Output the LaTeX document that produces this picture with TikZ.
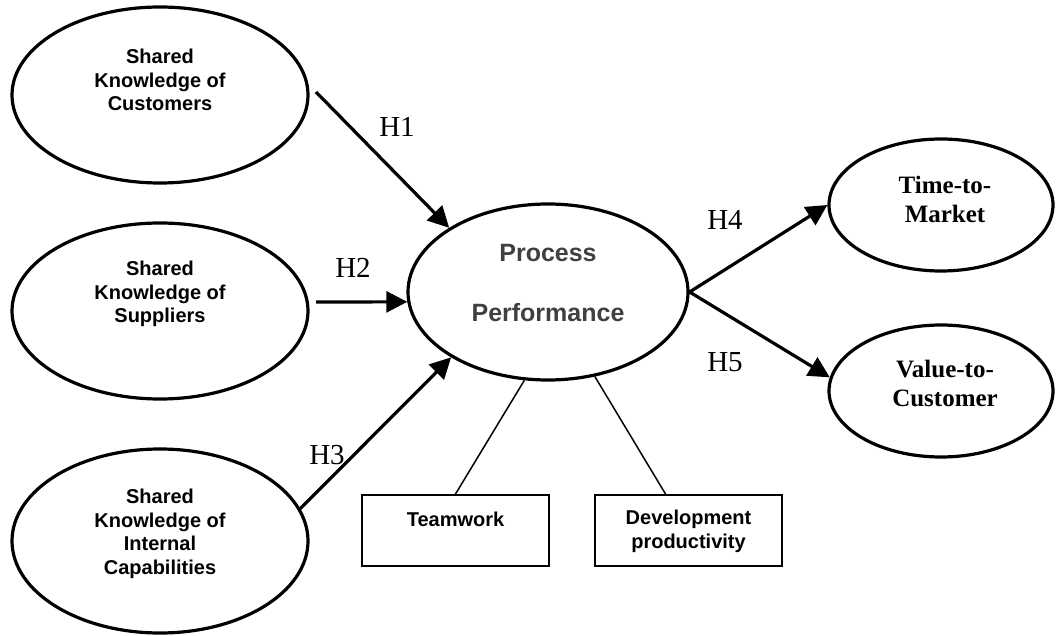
\documentclass[tikz,border=0pt]{standalone}
\usepackage{fontspec}
\usetikzlibrary{arrows.meta,shapes.geometric,calc}
\newfontfamily\arialf{Liberation Sans}
\newfontfamily\timesf{Liberation Serif}
\definecolor{ppgray}{RGB}{64,64,64}
\begin{document}
\begin{tikzpicture}[x=1pt,y=1pt,
  oval/.style={draw,ellipse,line width=3.2pt,inner sep=0pt},
  ovaltext/.style={align=center,font=\arialf\bfseries\fontsize{20}{23.5}\selectfont},
  rtext/.style={align=center,font=\timesf\bfseries\fontsize{25}{29}\selectfont},
  hlab/.style={font=\timesf\fontsize{29}{32}\selectfont},
  box/.style={draw,rectangle,line width=2pt,minimum width=187pt,minimum height=71pt,inner sep=0pt},
  boxtext/.style={align=center,font=\arialf\bfseries\fontsize{20}{24}\selectfont},
  arr/.style={line width=3.2pt,-{Triangle[length=21pt,width=21pt]}},
  thin/.style={line width=1.5pt}]
\useasboundingbox (0,0) rectangle (1056,635);
% ellipses
\node[oval,minimum width=296pt,minimum height=176pt] (e1) at (160,540) {};
\node[oval,minimum width=296pt,minimum height=176pt] (e2) at (160,324) {};
\node[oval,minimum width=296pt,minimum height=184pt] (e3) at (160,94) {};
\node[oval,minimum width=280pt,minimum height=176pt] (pp) at (548,343) {};
\node[oval,minimum width=224pt,minimum height=132pt] (tm) at (941,430) {};
\node[oval,minimum width=224pt,minimum height=132pt] (vc) at (941,244) {};
% texts
\node[ovaltext] (t1) at (160,555) {Shared\\Knowledge of\\Customers};
\node[ovaltext] (t2) at (160,341) {Shared\\Knowledge of\\Suppliers};
\node[ovaltext] (t3) at (160,101) {Shared\\Knowledge of\\Internal\\Capabilities};
\node[align=center,text=ppgray,font=\arialf\bfseries\fontsize{25}{60}\selectfont] (tp) at (548,352) {Process\\Performance};
\node[rtext] (tt) at (945,436) {Time-to-\\Market};
\node[rtext] (tv) at (945,252) {Value-to-\\Customer};
% boxes
\node[box] (tw) at (455.5,104.5) {};
\node[box] (dv) at (688.5,104.5) {};
\node[boxtext] (twt) at (455.5,116) {Teamwork};
\node[boxtext] (dvt) at (688.5,104) {Development\\productivity};
% connectors
\coordinate (s1) at (316,543);
\coordinate (s2) at (316,333);
\draw[arr] (s1) -- (pp.147);
\draw[arr] (s2) -- (pp.184);
\draw[arr] (e3.13) -- (pp.214);
\draw[arr] (pp.east) -- (tm.west);
\draw[arr] (pp.east) -- (vc.173);
\draw[thin] (pp.255) -- (tw.north);
\draw[thin] (pp.299) -- ($(dv.north)+(-23,0)$);
% hypothesis labels
\node[hlab] (h1) at (397,508) {H1};
\node[hlab] (h2) at (353,367) {H2};
\node[hlab] (h3) at (327,180) {H3};
\node[hlab] (h4) at (725,415) {H4};
\node[hlab] (h5) at (725,273) {H5};
\end{tikzpicture}
\end{document}
